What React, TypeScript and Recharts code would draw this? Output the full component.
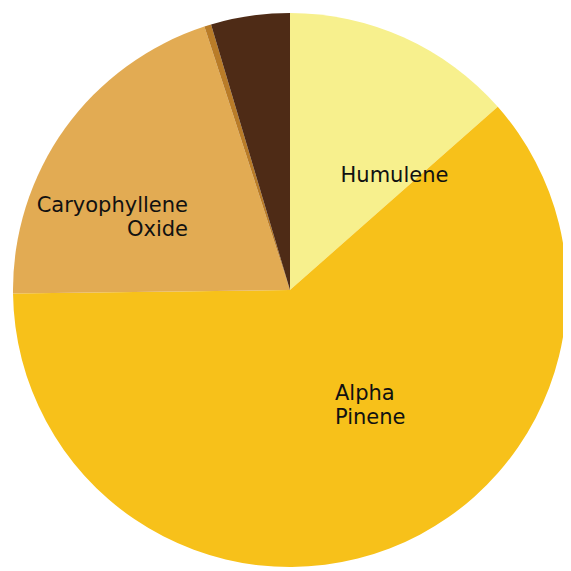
import * as React from 'react';
import { PieChart, Pie, Cell } from 'recharts';

// Slice order: clockwise from 12 o'clock
const names = ['Humulene', 'Alpha Pinene', 'Caryophyllene Oxide', 'Trace', 'Other'];
const values = [13.5, 61.3, 20.2, 0.4, 4.6];
const colors = ['#F7F08D', '#F7C11A', '#E2AB53', '#B97C28', '#4E2B16'];

// label lines per slice (empty = no label)
const labelLines: string[][] = [['Humulene'], ['Alpha', 'Pinene'], ['Caryophyllene', 'Oxide'], [], []];

const data = names.map((name, i) => ({ name, value: values[i] }));

// label anchor (first baseline) relative to the pie center, in px
const labelSpots: Array<{ dx: number; dy: number; anchor: 'start' | 'middle' | 'end' }> = [
  { dx: 104.5, dy: -108, anchor: 'middle' },
  { dx: 45, dy: 110, anchor: 'start' },
  { dx: -102, dy: -78, anchor: 'end' },
];

function renderLabel(props: any) {
  const { cx, cy, index } = props;
  const lines = labelLines[index];
  if (!lines || lines.length === 0) return null;
  const s = labelSpots[index];
  const x = cx + s.dx;
  const y = cy + s.dy;
  const lineH = 24;
  return (
    <text
      x={x}
      y={y}
      textAnchor={s.anchor}
      fill="#111111"
      fontSize={21}
      fontFamily="DejaVu Sans, sans-serif"
    >
      {lines.map((l, k) => (
        <tspan key={k} x={x} dy={k === 0 ? 0 : lineH}>
          {l}
        </tspan>
      ))}
    </text>
  );
}

export default function App() {
  return (
    <div style={{ width: 571, height: 571 }}>
      <PieChart width={571} height={571} margin={{ top: 0, right: 0, bottom: 0, left: 0 }}>
        <Pie
          data={data}
          dataKey="value"
          nameKey="name"
          cx={282}
          cy={282}
          outerRadius={277}
          startAngle={90}
          endAngle={-270}
          stroke="none"
          label={renderLabel}
          labelLine={false}
          isAnimationActive={false}
        >
          {data.map((d, i) => (
            <Cell key={d.name} fill={colors[i]} />
          ))}
        </Pie>
      </PieChart>
    </div>
  );
}
